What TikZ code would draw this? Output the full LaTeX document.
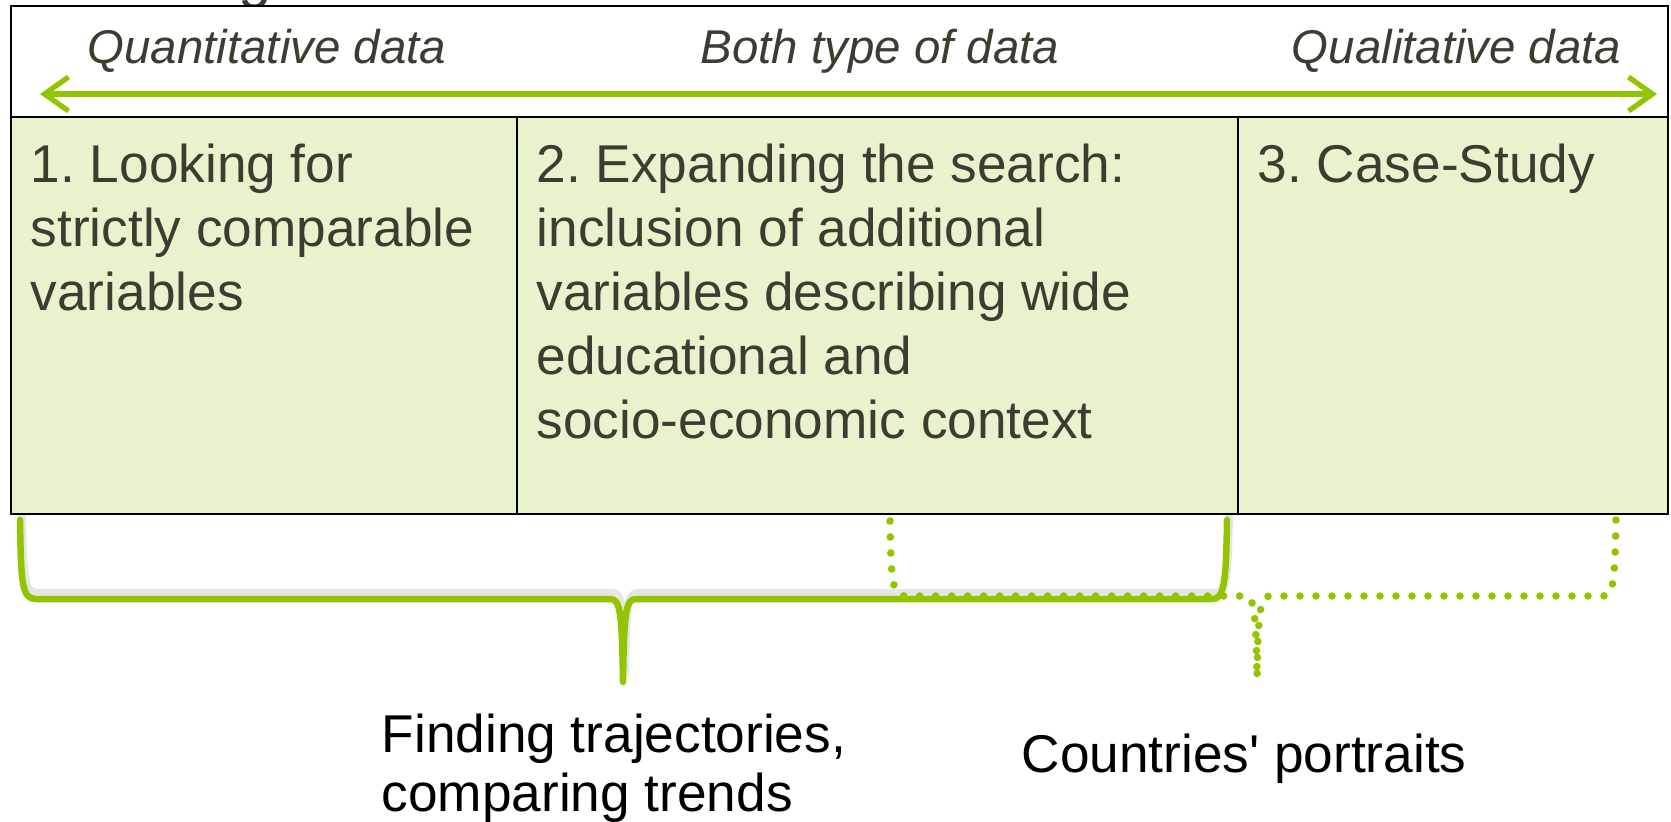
\documentclass[tikz,border=0pt]{standalone}
\usepackage{fontspec}
\setmainfont{Liberation Sans}
\usetikzlibrary{arrows.meta}
\frenchspacing

\definecolor{lgreen}{RGB}{146,196,0}
\definecolor{cellfill}{RGB}{232,243,206}
\definecolor{txtgray}{RGB}{60,60,48}

\tikzset{every picture/.style={line width=0.75pt}}

\begin{document}
\begin{tikzpicture}[x=0.5pt,y=0.5pt,yscale=-1,xscale=1,
	cellbox/.style={draw=black,line width=1.2pt,fill=cellfill},
	headtext/.style={font=\fontsize{23.7}{28}\selectfont\itshape,text=txtgray,inner sep=0pt},
	celltext/.style={font=\fontsize{26.6}{32}\selectfont,text=txtgray,align=left,inner sep=0pt,anchor=north west},
	bottext/.style={font=\fontsize{26.6}{29.5}\selectfont,align=left,inner sep=0pt},
	bracesolid/.style={draw=lgreen,line width=3.25pt,line cap=round,line join=round},
	bracedots/.style={draw=lgreen,line width=3.8pt,line cap=round,dash pattern=on 0pt off 8pt},
	braceshadow/.style={draw=black,opacity=0.1,line width=4pt,xshift=1pt,yshift=-3pt}]
	\useasboundingbox (0,0) rectangle (1671,821);
	
	% Title (cut off at the top)
	\begin{scope}
		\clip (0,0) rectangle (1671,7);
		\node [font=\fontsize{30}{36}\selectfont,text=txtgray,inner sep=0pt,anchor=base] (ttl) at (255,-4) {g};
	\end{scope}
	\draw [line width=2pt,color=txtgray] (66,8) -- (353,8) ;
	
	%Shape: Rectangle [header row]
	\draw [line width=1.2pt,fill=white] (11,6) rectangle (1668,117) ;
	%Shape: Rectangle [cells]
	\draw [cellbox] (11,117) rectangle (517,514) ;
	\draw [cellbox] (517,117) rectangle (1238,514) ;
	\draw [cellbox] (1238,117) rectangle (1668,514) ;
	
	%Straight Lines [double arrow]
	\coordinate (qlt) at (40,94) ;
	\coordinate (qlr) at (1657,94) ;
	\draw [{Straight Barb[length=12pt,width=17pt]}-{Straight Barb[length=12pt,width=17pt]},color=lgreen,line width=2.6pt,line cap=round] (qlt) -- (qlr) ;
	
	% Text Node
	\node [headtext,anchor=base west] (quant) at (87,63) {Quantitative data};
	% Text Node
	\node [headtext,anchor=base west] (both) at (700,63) {Both type of data};
	% Text Node
	\node [headtext,anchor=base east] (qual) at (1622,63) {Qualitative data};
	
	% Text Node
	\node [celltext] (step1) at (30,143) {1. Looking for\\strictly comparable\\variables};
	% Text Node
	\node [celltext] (step2) at (536,143) {2. Expanding the search:\\inclusion of additional\\variables describing wide\\educational and\\socio-economic context};
	% Text Node
	\node [celltext] (step3) at (1257,143) {3. Case-Study};
	
	%Curve Lines [solid brace]
	\draw [braceshadow] (20,520) .. controls (21,585) and (22,599) .. (36,599) -- (610,599) .. controls (620,599) and (622,610) .. (623,682) .. controls (624,610) and (626,599) .. (636,599) -- (1212,599) .. controls (1224,599) and (1226,585) .. (1227,520) ;
	\draw [bracesolid] (20,520) .. controls (21,585) and (22,599) .. (36,599) -- (610,599) .. controls (620,599) and (622,610) .. (623,682) .. controls (624,610) and (626,599) .. (636,599) -- (1212,599) .. controls (1224,599) and (1226,585) .. (1227,520) ;
	
	%Curve Lines [dotted brace]
	\draw [bracedots] (890,521) .. controls (891,585) and (893,596) .. (905,596) -- (1245,596) .. controls (1253,596) and (1256,606) .. (1257,678) .. controls (1258,606) and (1261,596) .. (1270,596) -- (1603,596) .. controls (1613,596) and (1615,585) .. (1616,516) ;
	
	% Text Node
	\node [bottext,anchor=north west] (trend) at (381,713) {Finding trajectories,\\comparing trends};
	% Text Node
	\node [bottext,anchor=base west] (portr) at (1021,772) {Countries\textquotesingle{} portraits};
	
\end{tikzpicture}
\end{document}
